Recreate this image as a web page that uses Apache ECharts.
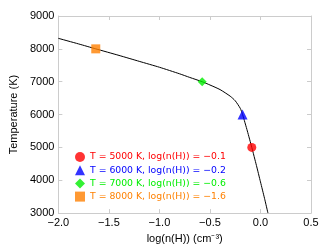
<!DOCTYPE html>
<html><head><meta charset="utf-8">
<script src="https://cdn.jsdelivr.net/npm/echarts@6/dist/echarts.min.js"></script>
<style>html,body{margin:0;padding:0;background:#fff}#c{width:328px;height:249px}</style>
</head><body><div id="c"></div>
<script>
var curveX = [-2.0, -1.8, -1.63, -1.4, -1.2, -1.0, -0.8, -0.7, -0.577, -0.5, -0.4, -0.3, -0.25, -0.2, -0.177, -0.13, -0.086, -0.04, 0.0, 0.04, 0.074];
var curveT = [8320, 8150, 8000, 7800, 7620, 7440, 7240, 7130, 7000, 6900, 6760, 6560, 6420, 6190, 6000, 5500, 5000, 4450, 3950, 3450, 3000];
var markerNames = ['T = 5000 K, log(n(H)) = \u22120.1', 'T = 6000 K, log(n(H)) = \u22120.2', 'T = 7000 K, log(n(H)) = \u22120.6', 'T = 8000 K, log(n(H)) = \u22121.6'];
var markerX = [-0.086, -0.177, -0.577, -1.63];
var markerT = [5000, 6000, 7000, 8000];
var markerColors = ['#ff0000', '#0000ff', '#00ee00', '#ff8000'];
var markerSymbols = ['circle', 'triangle', 'diamond', 'rect'];
var markerSizes = [9, 10, 9, 9];

var font = 'Liberation Sans, Arial, sans-serif';
var gray = '#cccccc';
function minus(v){ return String(v).replace('-', '\u2212'); }

var series = [{
  type: 'line', silent: true, symbol: 'none', smooth: 0.2,
  lineStyle: {color: '#000', width: 1},
  data: curveX.map(function(x, i){ return [x, curveT[i]]; }),
  z: 2
}];
markerNames.forEach(function(n, i){
  series.push({type: 'scatter', name: n, symbol: markerSymbols[i], symbolSize: markerSizes[i],
    itemStyle: {color: markerColors[i]}, data: [[markerX[i], markerT[i]]], z: 3});
});

var chart = echarts.init(document.getElementById('c'), null, {renderer: 'canvas'});
chart.setOption({
  animation: false,
  grid: {left: 55, right: 17, top: 16, bottom: 35, show: false},
  legend: {
    orient: 'vertical', left: 70, top: 147, itemWidth: 10, itemHeight: 10, itemGap: 3.2,
    selectedMode: false,
    data: markerNames.map(function(n, i){ return {name: n, icon: markerSymbols[i], textStyle: {color: markerColors[i]}}; }),
    textStyle: {fontFamily: 'DejaVu Sans', fontSize: 9.3, lineHeight: 10}
  },
  xAxis: [{
    type: 'value', min: -2.0, max: 0.5, interval: 0.5,
    name: 'log(n(H)) (cm\u207B\u00B3)', nameLocation: 'middle', nameGap: 16,
    nameTextStyle: {fontFamily: font, fontSize: 11, color: '#000'},
    axisLine: {show: true, onZero: false, lineStyle: {color: gray}},
    axisTick: {show: true, inside: true, length: 4, lineStyle: {color: gray}},
    axisLabel: {fontFamily: font, fontSize: 11, color: '#000', margin: 4,
      formatter: function(v){ return minus(v.toFixed(1)); }},
    splitLine: {show: false}
  }, {
    type: 'value', position: 'top', min: -2.0, max: 0.5, interval: 0.5,
    axisLine: {show: true, onZero: false, lineStyle: {color: gray}},
    axisTick: {show: true, inside: true, length: 4, lineStyle: {color: gray}},
    axisLabel: {show: false}, splitLine: {show: false}
  }],
  yAxis: [{
    type: 'value', min: 3000, max: 9000, interval: 1000,
    name: 'Temperature (K)', nameLocation: 'middle', nameGap: 25,
    nameTextStyle: {fontFamily: font, fontSize: 11, color: '#000'},
    axisLine: {show: true, onZero: false, lineStyle: {color: gray}},
    axisTick: {show: true, inside: true, length: 4, lineStyle: {color: gray}},
    axisLabel: {fontFamily: font, fontSize: 11, color: '#000', margin: 4,
      formatter: function(v){ return String(v); }},
    splitLine: {show: false}
  }, {
    type: 'value', position: 'right', min: 3000, max: 9000, interval: 1000,
    axisLine: {show: true, onZero: false, lineStyle: {color: gray}},
    axisTick: {show: true, inside: true, length: 4, lineStyle: {color: gray}},
    axisLabel: {show: false}, splitLine: {show: false}
  }],
  series: series
});
</script></body></html>
